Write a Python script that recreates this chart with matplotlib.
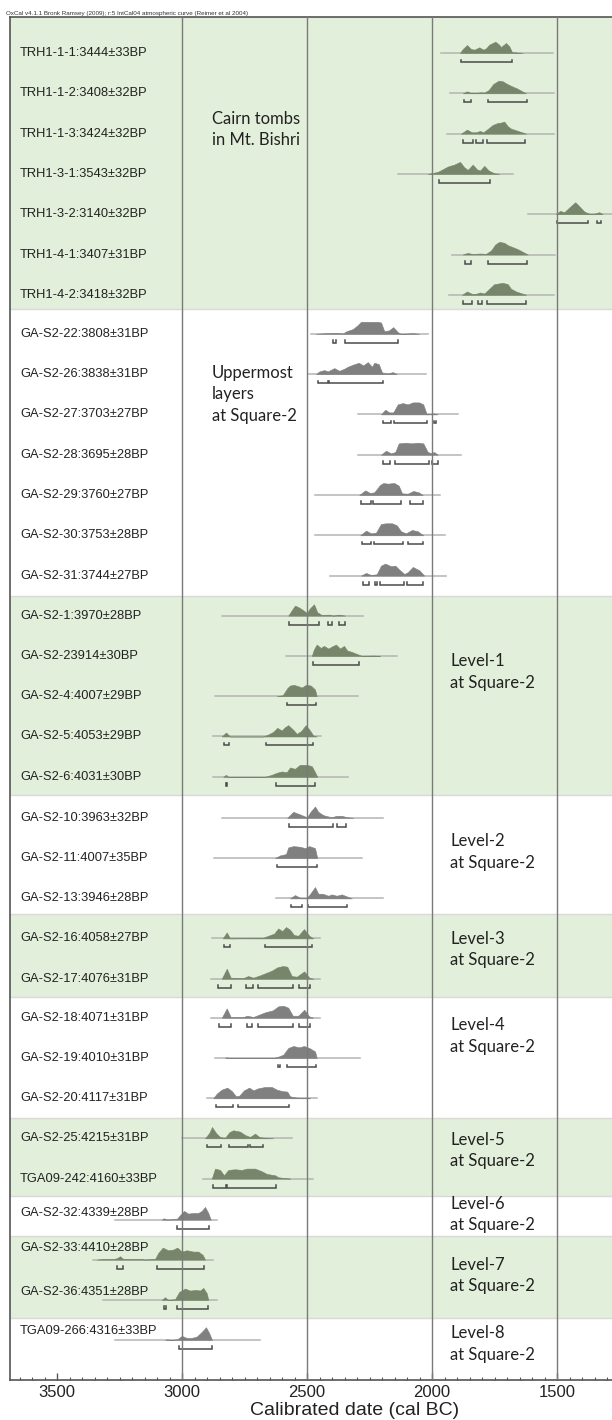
import matplotlib
matplotlib.use("Agg")
import matplotlib.pyplot as plt
import matplotlib.transforms as mtransforms
from matplotlib.ticker import MultipleLocator

plt.rcParams['font.family'] = ['Liberation Sans', 'DejaVu Sans']

# --- data ---
labels = [
    "TRH1-1-1:3444±33BP", "TRH1-1-2:3408±32BP", "TRH1-1-3:3424±32BP", "TRH1-3-1:3543±32BP",
    "TRH1-3-2:3140±32BP", "TRH1-4-1:3407±31BP", "TRH1-4-2:3418±32BP",
    "GA-S2-22:3808±31BP", "GA-S2-26:3838±31BP", "GA-S2-27:3703±27BP", "GA-S2-28:3695±28BP",
    "GA-S2-29:3760±27BP", "GA-S2-30:3753±28BP", "GA-S2-31:3744±27BP",
    "GA-S2-1:3970±28BP", "GA-S2-23914±30BP", "GA-S2-4:4007±29BP", "GA-S2-5:4053±29BP", "GA-S2-6:4031±30BP",
    "GA-S2-10:3963±32BP", "GA-S2-11:4007±35BP", "GA-S2-13:3946±28BP",
    "GA-S2-16:4058±27BP", "GA-S2-17:4076±31BP",
    "GA-S2-18:4071±31BP", "GA-S2-19:4010±31BP", "GA-S2-20:4117±31BP",
    "GA-S2-25:4215±31BP", "TGA09-242:4160±33BP",
    "GA-S2-32:4339±28BP",
    "GA-S2-33:4410±28BP", "GA-S2-36:4351±28BP",
    "TGA09-266:4316±33BP",
]

group_names = [
    "Cairn tombs\nin Mt. Bishri", "Uppermost\nlayers\nat Square-2",
    "Level-1\nat Square-2", "Level-2\nat Square-2", "Level-3\nat Square-2",
    "Level-4\nat Square-2", "Level-5\nat Square-2", "Level-6\nat Square-2",
    "Level-7\nat Square-2", "Level-8\nat Square-2",
]
group_sizes = [7, 7, 5, 3, 2, 3, 2, 1, 2, 1]

# probability curves: calendar years (cal BC) and relative density
dens_years = [
    [1888, 1877, 1860, 1844, 1831, 1811, 1795, 1784, 1771, 1747, 1733, 1724, 1704, 1691, 1680, 1637],
    [1877, 1860, 1844, 1824, 1807, 1791, 1773, 1755, 1733, 1717, 1704, 1691, 1677, 1661, 1644, 1624],
    [1884, 1860, 1841, 1824, 1808, 1795, 1777, 1757, 1737, 1724, 1711, 1697, 1684, 1664, 1644, 1624],
    [2017, 1997, 1977, 1957, 1937, 1911, 1888, 1871, 1857, 1837, 1821, 1808, 1791, 1773, 1751, 1731],
    [1504, 1488, 1471, 1451, 1427, 1411, 1391, 1373, 1357, 1341, 1331, 1317],
    [1877, 1857, 1837, 1811, 1784, 1764, 1747, 1731, 1711, 1697, 1677, 1657, 1637, 1617],
    [1880, 1860, 1841, 1824, 1808, 1791, 1771, 1751, 1733, 1717, 1697, 1684, 1664, 1644, 1624],
    [2464, 2424, 2384, 2357, 2341, 2317, 2297, 2284, 2264, 2244, 2217, 2204, 2191, 2173, 2155, 2137, 2124, 2077, 2051],
    [2464, 2451, 2431, 2417, 2391, 2371, 2351, 2337, 2317, 2293, 2275, 2257, 2240, 2231, 2213, 2200, 2177, 2157, 2141],
    [2204, 2187, 2171, 2155, 2137, 2117, 2097, 2077, 2051, 2035, 2021, 1991, 1977],
    [2204, 2184, 2164, 2147, 2133, 2104, 2084, 2057, 2035, 2017, 2004, 1991, 1977],
    [2291, 2267, 2248, 2231, 2208, 2195, 2177, 2151, 2133, 2120, 2097, 2075, 2053, 2037],
    [2287, 2264, 2244, 2224, 2204, 2184, 2160, 2141, 2124, 2104, 2080, 2057, 2035],
    [2284, 2264, 2244, 2221, 2204, 2187, 2164, 2147, 2131, 2111, 2097, 2077, 2051, 2031],
    [2575, 2561, 2548, 2531, 2515, 2501, 2488, 2472, 2459, 2441, 2411, 2395, 2371, 2348],
    [2481, 2472, 2461, 2445, 2432, 2415, 2401, 2384, 2368, 2352, 2339, 2321, 2301, 2281, 2235, 2208],
    [2621, 2597, 2579, 2568, 2552, 2535, 2521, 2504, 2485, 2468, 2461],
    [2841, 2824, 2808, 2675, 2655, 2635, 2619, 2601, 2588, 2575, 2555, 2541, 2524, 2505, 2488, 2475, 2461],
    [2835, 2824, 2815, 2668, 2641, 2621, 2601, 2581, 2568, 2548, 2528, 2501, 2481, 2468, 2459],
    [2579, 2555, 2541, 2521, 2508, 2499, 2488, 2468, 2455, 2435, 2415, 2401, 2381, 2361, 2341, 2315],
    [2628, 2608, 2584, 2575, 2555, 2528, 2508, 2491, 2468, 2459],
    [2568, 2548, 2528, 2504, 2491, 2468, 2455, 2437, 2415, 2401, 2381, 2361, 2341, 2321],
    [2837, 2821, 2808, 2741, 2675, 2655, 2632, 2615, 2599, 2584, 2568, 2552, 2535, 2512, 2491, 2475],
    [2841, 2821, 2805, 2755, 2735, 2715, 2688, 2668, 2641, 2619, 2597, 2579, 2561, 2541, 2511, 2491, 2475],
    [2841, 2821, 2805, 2755, 2739, 2715, 2695, 2668, 2637, 2615, 2595, 2575, 2557, 2535, 2511, 2491, 2475],
    [2828, 2821, 2811, 2635, 2615, 2595, 2575, 2555, 2531, 2512, 2491, 2468, 2461],
    [2875, 2861, 2841, 2819, 2801, 2784, 2771, 2752, 2731, 2715, 2695, 2668, 2641, 2621, 2601, 2579, 2568, 2541, 2508, 2488],
    [2908, 2891, 2880, 2864, 2848, 2828, 2811, 2795, 2768, 2748, 2728, 2708, 2691, 2675, 2635],
    [2881, 2868, 2848, 2832, 2815, 2788, 2761, 2741, 2708, 2681, 2661, 2645, 2628, 2615, 2581, 2568],
    [3081, 3072, 3061, 3021, 3005, 2992, 2975, 2955, 2935, 2921, 2908, 2895, 2885],
    [3341, 3315, 3281, 3261, 3248, 3235, 3208, 3168, 3148, 3108, 3095, 3077, 3055, 3035, 3019, 3001, 2981, 2955, 2935, 2917, 2908],
    [3081, 3068, 3055, 3028, 3011, 2988, 2968, 2944, 2928, 2915, 2901, 2895],
    [3068, 3059, 3048, 3019, 3001, 2981, 2961, 2941, 2921, 2904, 2891, 2880],
]
dens_vals = [
    [0, 12, 24, 12, 10, 17, 10, 14, 25, 34, 26, 18, 30, 20, 3, 0],
    [0, 6, 1, 1, 3, 2, 10, 28, 38, 36, 30, 25, 20, 15, 8, 0],
    [0, 12, 4, 4, 8, 4, 14, 26, 32, 33, 36, 22, 15, 10, 5, 0],
    [0, 3, 6, 14, 22, 28, 36, 20, 12, 28, 14, 10, 24, 10, 2, 0],
    [0, 10, 6, 20, 36, 24, 8, 2, 0, 4, 6, 0],
    [0, 5, 1, 3, 2, 12, 30, 38, 35, 28, 22, 16, 8, 0],
    [0, 10, 3, 3, 7, 4, 18, 32, 34, 36, 32, 18, 10, 5, 0],
    [0, 2, 3, 1, 8, 14, 26, 36, 36, 36, 36, 34, 8, 10, 20, 5, 0, 2, 0],
    [0, 8, 12, 8, 18, 10, 16, 22, 28, 34, 26, 36, 22, 34, 30, 5, 2, 6, 0],
    [0, 14, 6, 6, 30, 34, 30, 36, 36, 30, 0, 3, 0],
    [0, 12, 4, 8, 34, 36, 34, 36, 34, 8, 5, 8, 0],
    [0, 14, 6, 8, 30, 36, 34, 36, 28, 5, 4, 12, 8, 0],
    [0, 14, 6, 8, 34, 36, 36, 30, 12, 6, 16, 12, 0],
    [0, 8, 2, 4, 30, 36, 28, 30, 18, 5, 10, 26, 16, 0],
    [0, 16, 30, 24, 16, 8, 22, 34, 10, 2, 3, 0, 3, 0],
    [0, 20, 34, 24, 30, 22, 28, 34, 22, 30, 16, 12, 6, 0, 1, 0],
    [0, 3, 24, 32, 34, 30, 26, 34, 32, 20, 0],
    [0, 12, 0, 0, 6, 14, 26, 18, 28, 34, 20, 8, 16, 34, 18, 3, 0],
    [0, 6, 0, 0, 6, 12, 16, 14, 28, 24, 36, 36, 32, 14, 0],
    [0, 18, 14, 8, 4, 2, 16, 34, 18, 8, 4, 2, 6, 6, 2, 0],
    [0, 8, 12, 32, 36, 34, 30, 36, 30, 0],
    [0, 10, 2, 0, 10, 34, 14, 14, 8, 12, 8, 12, 6, 0],
    [0, 18, 0, 1, 2, 8, 14, 30, 22, 34, 26, 10, 8, 28, 8, 0],
    [0, 30, 3, 2, 8, 3, 10, 16, 24, 34, 38, 36, 8, 6, 22, 3, 0],
    [0, 28, 2, 2, 6, 2, 8, 16, 22, 34, 36, 30, 6, 6, 24, 4, 0],
    [0, 2, 0, 0, 4, 10, 30, 36, 32, 36, 30, 20, 0],
    [0, 14, 26, 32, 22, 6, 8, 24, 32, 24, 30, 34, 34, 26, 22, 20, 6, 2, 1, 0],
    [0, 16, 34, 16, 4, 1, 18, 24, 20, 10, 4, 14, 4, 2, 0],
    [0, 30, 26, 10, 26, 28, 26, 30, 30, 22, 14, 12, 10, 4, 1, 0],
    [0, 4, 0, 2, 16, 26, 18, 20, 20, 26, 38, 20, 0],
    [0, 2, 1, 4, 10, 2, 1, 2, 0, 2, 20, 36, 28, 30, 36, 24, 28, 24, 24, 14, 0],
    [0, 8, 0, 2, 24, 34, 28, 30, 28, 36, 20, 0],
    [0, 2, 0, 2, 12, 6, 6, 10, 24, 38, 20, 0],
]

# extent of the thin base line of each curve
line_from = [1964, 1928, 1939, 2137, 1617, 1920, 1933,
             2484, 2497, 2297, 2297, 2467, 2467, 2408,
             2841, 2584, 2868, 2877, 2875,
             2841, 2872, 2624,
             2881, 2885,
             2885, 2868, 2901,
             3001, 2917,
             3268,
             3355, 3315,
             3268]
line_to = [1517, 1511, 1512, 1677, 1200, 1507, 1511,
           2017, 2024, 1897, 1884, 1967, 1947, 1944,
           2275, 2141, 2295, 2445, 2335,
           2195, 2279, 2195,
           2448, 2448,
           2448, 2288, 2461,
           2561, 2477,
           2861,
           2877, 2861,
           2688]

# 95.4% ranges drawn as brackets under each curve
ranges = [
    [(1883, 1681)],
    [(1871, 1844), (1776, 1619)],
    [(1877, 1837), (1823, 1797), (1781, 1629)],
    [(1973, 1767)],
    [(1499, 1377), (1341, 1323)],
    [(1867, 1845), (1776, 1621)],
    [(1875, 1840), (1816, 1800), (1781, 1624)],
    [(2397, 2385), (2347, 2137)],
    [(2457, 2415), (2411, 2197)],
    [(2197, 2164), (2151, 2021), (1991, 1983)],
    [(2197, 2167), (2147, 2013), (2000, 1977)],
    [(2284, 2244), (2235, 2124), (2088, 2037)],
    [(2280, 2244), (2231, 2117), (2097, 2037)],
    [(2275, 2251), (2228, 2221), (2208, 2111), (2101, 2035)],
    [(2571, 2451), (2416, 2401), (2371, 2348)],
    [(2475, 2293)],
    [(2579, 2464)],
    [(2832, 2811), (2665, 2475)],
    [(2825, 2819), (2624, 2468)],
    [(2571, 2395), (2381, 2344)],
    [(2619, 2461)],
    [(2565, 2521), (2495, 2341)],
    [(2832, 2808), (2668, 2481)],
    [(2855, 2805), (2744, 2717), (2695, 2557), (2531, 2488)],
    [(2852, 2805), (2741, 2721), (2695, 2555), (2532, 2488)],
    [(2615, 2608), (2579, 2464)],
    [(2864, 2797), (2775, 2571)],
    [(2899, 2845), (2811, 2735), (2728, 2677)],
    [(2877, 2824), (2819, 2624)],
    [(3019, 2891)],
    [(3259, 3235), (3099, 2911)],
    [(3072, 3064), (3021, 2895)],
    [(3011, 2881)],
]

# --- layout (vertical units = pixels from the top of the figure) ---
ROW = 40.3
pad_top = [36, 25, 20, 23, 24, 21, 20, 24, 24, 22]
pad_bottom = [14, 20, 18, 16, 18, 20, 17, 16, 18, 40]
label_dy = [0] * 29 + [-7, -12, -8, -9]
group_text_row = [1.9, 1.5, 1.4, 0.85, 0.27, 0.45, 0.3, -0.12, 0.4, 0.1]
Y_TOP = 17

BAND_GREEN = '#e2efda'
FILL_GREEN = '#77866b'
FILL_GREY = '#808080'

bands, baselines, row_green, group_text_y = [], [], [], []
y = Y_TOP
for g, n in enumerate(group_sizes):
    top = y
    first = top + pad_top[g]
    rows = [first + i * ROW for i in range(n)]
    bottom = rows[-1] + pad_bottom[g]
    bands.append((top, bottom))
    baselines += rows
    row_green += [g % 2 == 0] * n
    group_text_y.append(first + group_text_row[g] * ROW)
    y = bottom
Y_BOTTOM = y

W, H = 612, 1420
fig = plt.figure(figsize=(W / 100, H / 100), dpi=100)
ax = fig.add_axes([10 / W, 1 - Y_BOTTOM / H, (W - 10) / W, (Y_BOTTOM - Y_TOP) / H])
ax.set_xlim(3688, 1280)
ax.set_ylim(Y_BOTTOM, Y_TOP)

for g, (top, bottom) in enumerate(bands):
    if g % 2 == 0:
        ax.axhspan(top, bottom, color=BAND_GREEN, lw=0, zorder=0)
    if g > 0:
        ax.axhline(top, color='#d9d9d9', lw=1, zorder=0.5)

for yr in [3000, 2500, 2000, 1500]:
    ax.axvline(yr, color='#7a7a7a', lw=1.0, zorder=4)

trans_lbl = mtransforms.blended_transform_factory(ax.transAxes, ax.transData)
for i, base in enumerate(baselines):
    fill = FILL_GREEN if row_green[i] else FILL_GREY
    ax.plot([line_from[i], line_to[i]], [base, base], color='#b4b4b4', lw=1.1, zorder=2)
    heights = [base - v / 3.0 for v in dens_vals[i]]
    ax.fill_between(dens_years[i], base, heights, color=fill, lw=0.4, edgecolor=fill, zorder=3)
    yb = base + 9
    for a, b in ranges[i]:
        ax.plot([a, a, b, b], [yb - 2.5, yb, yb, yb - 2.5], color='#4a4a4a', lw=1.1,
                solid_joinstyle='miter', zorder=3)
    ax.text(10 / 602, base + label_dy[i], labels[i], transform=trans_lbl,
            fontsize=9.3, color='#222222', va='center', ha='left', zorder=5)

for g, name in enumerate(group_names):
    xg = (212 - 10) / 602 if g < 2 else (450 - 10) / 602
    ax.text(xg, group_text_y[g], name, transform=trans_lbl, fontsize=12,
            family=['Lato', 'DejaVu Sans'], color='#222222', va='center', ha='left',
            linespacing=1.42, zorder=5)

# axis styling
ax.spines['right'].set_visible(False)
for side in ['left', 'top', 'bottom']:
    ax.spines[side].set_color('#555555')
    ax.spines[side].set_linewidth(1.2)
ax.set_yticks([])
ax.xaxis.set_major_locator(MultipleLocator(500))
ax.xaxis.set_minor_locator(MultipleLocator(50))
ax.tick_params(axis='x', which='major', direction='in', length=5, width=1, color='#555555',
               labelsize=12, pad=4, labelcolor='#222222')
ax.tick_params(axis='x', which='minor', direction='in', length=2.2, width=0.8, color='#555555')
ax.set_xlabel('Calibrated date (cal BC)', fontsize=14, color='#222222', labelpad=0)
ax.xaxis.set_label_coords((355 - 10) / 602, -0.0165)

fig.text(6 / W, 1 - 13 / H, 'OxCal v4.1.1 Bronk Ramsey (2009); r:5 IntCal04 atmospheric curve (Reimer et al 2004)',
         fontsize=4.5, color='#333333', va='center', ha='left')

fig.savefig('out.png', dpi=100)
